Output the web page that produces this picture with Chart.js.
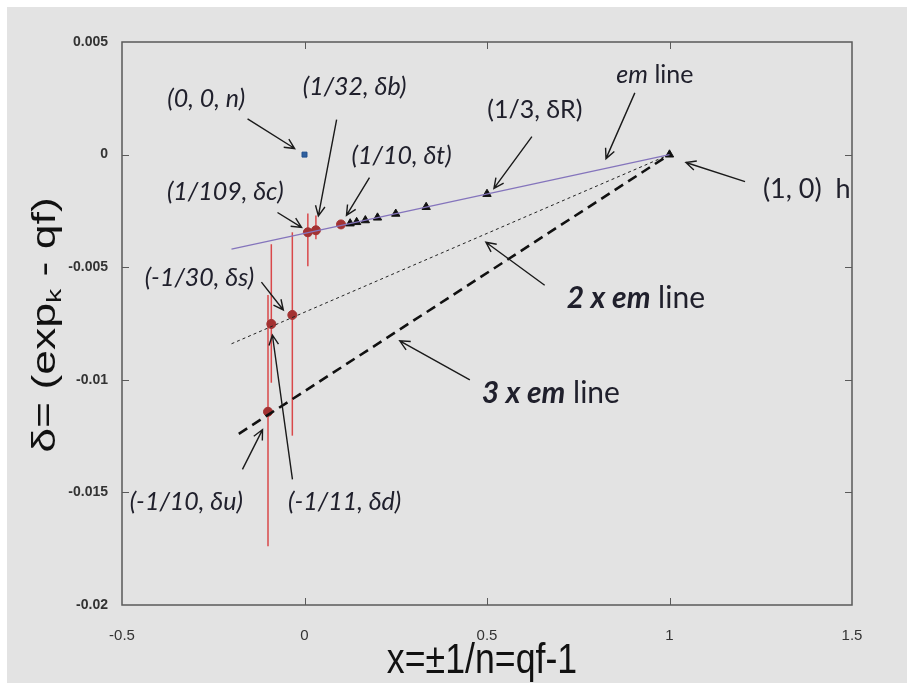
<!DOCTYPE html>
<html>
<head>
<meta charset="utf-8">
<script src="https://cdn.jsdelivr.net/npm/chart.js@4.4.1/dist/chart.umd.min.js"></script>
<style>
  html, body { margin: 0; padding: 0; background: #ffffff; }
  #wrap { position: absolute; left: 7px; top: 7px; width: 900px; height: 676px; background: #e3e3e3; }
</style>
</head>
<body>
<div id="wrap"><canvas id="c" width="900" height="676"></canvas></div>
<script>
// ---- Ejes ----
const xTicks      = [-0.5, 0, 0.5, 1, 1.5];
const xTickLabels = ['-0.5', '0', '0.5', '1', '1.5'];
const yTicks      = [-0.02, -0.015, -0.01, -0.005, 0, 0.005];
const yTickLabels = ['-0.02', '-0.015', '-0.01', '-0.005', '0', '0.005'];

// ---- Lineas (extremos) ----
const emLineX  = [-0.2, 1];
const emLineY  = [-0.0042, 0];
const em2LineX = [-0.2, 1];
const em2LineY = [-0.0084, 0];
const em3LineX = [-0.18, 1];
const em3LineY = [-0.0124, 0];

// ---- Leptones / h (triangulos) ----
const triX = [1/8, 1/7, 1/6, 1/5, 1/4, 1/3, 1/2, 1];
const triY = [-0.00306, -0.00300, -0.00292, -0.00280, -0.00263, -0.00233, -0.00175, 0];

// ---- Quarks (circulos con barras de error) ----
const qX    = [1/109, 1/32, 1/10, -1/30, -1/11, -1/10];
const qY    = [-0.00345, -0.00336, -0.00310, -0.00712, -0.00752, -0.01142];
const qHigh = [-0.00261, -0.00270, null, -0.00345, -0.00398, -0.00624];
const qLow  = [-0.00496, -0.00376, null, -0.01248, -0.01013, -0.01739];

// ---- Neutrino ----
const nX = [0];
const nY = [0];

const pts = (xs, ys) => xs.map((x, i) => ({ x: x, y: ys[i] }));

// ---- Anotaciones: texto + flecha (coordenadas de datos) ----
const annotations = [
  { at: [-0.269, 0.00248], parts: [['(0, 0, n)', 'i']], from: [-0.156, 0.00159], to: [-0.027, 0.00027] },
  { at: [0.137, 0.00301], parts: [['(1/32, δb)', 'i']], from: [0.088, 0.00155], to: [0.038, -0.00272] },
  { at: [0.266, -0.00004], parts: [['(1/10, δt)', 'i']], from: [0.178, -0.00102], to: [0.115, -0.00270] },
  { at: [-0.217, -0.00164], parts: [['(1/109, δc)', 'i']], from: [-0.074, -0.00257], to: [-0.008, -0.00323] },
  { at: [0.631, 0.00199], parts: [['(1/3, δR)', 'n']], from: [0.623, 0.0008], to: [0.519, -0.0015] },
  { at: [0.960, 0.00354], parts: [['em', 'i'], [' line', 'n']], from: [0.905, 0.00274], to: [0.826, -0.00018] },
  { at: [1.376, -0.00155], parts: [['(1, 0)  h', 'm']], from: [1.207, -0.0012], to: [1.045, -0.00035] },
  { at: [0.908, -0.00637], parts: [['2 x ', 'bi'], ['em', 'bi'], [' line', 'N']], from: [0.658, -0.0058], to: [0.497, -0.00389] },
  { at: [0.675, -0.01058], parts: [['3 x ', 'bi'], ['em', 'bi'], [' line', 'N']], from: [0.453, -0.0100], to: [0.261, -0.00827] },
  { at: [-0.288, -0.00549], parts: [['(-1/30, δs)', 'i']], from: [-0.118, -0.00566], to: [-0.058, -0.0069] },
  { at: [-0.324, -0.01544], parts: [['(-1/10, δu)', 'i']], from: [-0.170, -0.01398], to: [-0.115, -0.01221] },
  { at: [0.110, -0.01544], parts: [['(-1/11, δd)', 'i']], from: [-0.033, -0.01442], to: [-0.088, -0.00801] },
];

const TXT = '#20202c';
const fontFor = (style) => ({
  i:  'italic 25px Lato, "Open Sans", sans-serif',
  n:  '25px Lato, "Open Sans", sans-serif',
  m:  '27px Lato, "Open Sans", sans-serif',
  bi: 'italic bold 30px Lato, "Open Sans", sans-serif',
  N:  '30px Lato, "Open Sans", sans-serif',
}[style]);

function drawParts(ctx, parts, cx, cy) {
  let total = 0;
  parts.forEach(p => { ctx.font = fontFor(p[1]); total += ctx.measureText(p[0]).width; });
  let x = cx - total / 2;
  ctx.textAlign = 'left';
  ctx.textBaseline = 'middle';
  ctx.fillStyle = TXT;
  parts.forEach(p => {
    ctx.font = fontFor(p[1]);
    ctx.fillText(p[0], x, cy);
    x += ctx.measureText(p[0]).width;
  });
}

function drawArrow(ctx, x1, y1, x2, y2) {
  const a = Math.atan2(y2 - y1, x2 - x1);
  const L = 11, W = 0.45;
  ctx.strokeStyle = '#1a1a1a';
  ctx.lineWidth = 1.4;
  ctx.beginPath();
  ctx.moveTo(x1, y1); ctx.lineTo(x2, y2);
  ctx.moveTo(x2 - L * Math.cos(a - W), y2 - L * Math.sin(a - W));
  ctx.lineTo(x2, y2);
  ctx.lineTo(x2 - L * Math.cos(a + W), y2 - L * Math.sin(a + W));
  ctx.stroke();
}

// Barras de error verticales
const errorBars = {
  id: 'errorBars',
  beforeDatasetsDraw(chart) {
    const { ctx, scales: { x, y } } = chart;
    ctx.save();
    ctx.strokeStyle = '#d9484a';
    ctx.lineWidth = 1.5;
    qX.forEach((v, i) => {
      if (qHigh[i] === null) return;
      const px = x.getPixelForValue(v);
      ctx.beginPath();
      ctx.moveTo(px, y.getPixelForValue(qHigh[i]));
      ctx.lineTo(px, y.getPixelForValue(qLow[i]));
      ctx.stroke();
    });
    ctx.restore();
  }
};

// Marco + marcas hacia dentro + titulos + anotaciones
const frame = {
  id: 'frame',
  afterDraw(chart) {
    const { ctx, chartArea: a, scales: { x, y } } = chart;
    ctx.save();
    ctx.strokeStyle = '#5a5a5a';
    ctx.lineWidth = 1.5;
    ctx.strokeRect(a.left, a.top, a.right - a.left, a.bottom - a.top);
    ctx.lineWidth = 1;
    ctx.beginPath();
    xTicks.slice(1, -1).forEach(v => {
      const px = Math.round(x.getPixelForValue(v)) + 0.5;
      ctx.moveTo(px, a.bottom); ctx.lineTo(px, a.bottom - 7);
      ctx.moveTo(px, a.top);    ctx.lineTo(px, a.top + 7);
    });
    yTicks.slice(1, -1).forEach(v => {
      const py = Math.round(y.getPixelForValue(v)) + 0.5;
      ctx.moveTo(a.left, py);  ctx.lineTo(a.left + 7, py);
      ctx.moveTo(a.right, py); ctx.lineTo(a.right - 7, py);
    });
    ctx.stroke();

    // titulo eje x (condensado)
    ctx.save();
    ctx.translate((a.left + a.right) / 2 - 5, 654);
    ctx.scale(0.85, 1);
    ctx.font = '42px "Liberation Sans", Arial, sans-serif';
    ctx.fillStyle = '#111';
    ctx.textAlign = 'center';
    ctx.textBaseline = 'middle';
    ctx.fillText('x=±1/n=qf-1', 0, 0);
    ctx.restore();

    // titulo eje y con subindice (alargado)
    ctx.save();
    ctx.translate(39, 318);
    ctx.rotate(-Math.PI / 2);
    ctx.scale(1.35, 1);
    const segs = [['δ= (exp', 33, 0], ['k', 21, 9], [' - qf)', 33, 0]];
    let tw = 0;
    segs.forEach(s => { ctx.font = s[1] + 'px "Liberation Sans", Arial, sans-serif'; tw += ctx.measureText(s[0]).width; });
    let sx = -tw / 2;
    ctx.fillStyle = '#111';
    ctx.textAlign = 'left';
    ctx.textBaseline = 'middle';
    segs.forEach(s => {
      ctx.font = s[1] + 'px "Liberation Sans", Arial, sans-serif';
      ctx.fillText(s[0], sx, s[2]);
      sx += ctx.measureText(s[0]).width;
    });
    ctx.restore();

    // anotaciones
    annotations.forEach(an => {
      drawParts(ctx, an.parts, x.getPixelForValue(an.at[0]), y.getPixelForValue(an.at[1]));
      drawArrow(ctx, x.getPixelForValue(an.from[0]), y.getPixelForValue(an.from[1]),
                     x.getPixelForValue(an.to[0]),   y.getPixelForValue(an.to[1]));
    });
    ctx.restore();
  }
};

new Chart(document.getElementById('c').getContext('2d'), {
  type: 'scatter',
  data: {
    datasets: [
      { type: 'line', data: pts(emLineX, emLineY), borderColor: '#8474bc', borderWidth: 1.3, pointRadius: 0, fill: false },
      { type: 'line', data: pts(em2LineX, em2LineY), borderColor: '#222', borderWidth: 1, borderDash: [3, 3], pointRadius: 0, fill: false },
      { type: 'line', data: pts(em3LineX, em3LineY), borderColor: '#111', borderWidth: 2.6, borderDash: [10, 6], pointRadius: 0, fill: false },
      { data: pts(triX, triY), pointStyle: 'triangle', pointRadius: 4.8, backgroundColor: '#111', borderColor: '#111', borderWidth: 1 },
      { data: pts(qX, qY), pointStyle: 'circle', pointRadius: 4.5, backgroundColor: '#a33232', borderColor: '#a33232', borderWidth: 1 },
      { data: pts(nX, nY), pointStyle: 'rect', pointRadius: 3.5, backgroundColor: '#2f5f9e', borderColor: '#1f4f8e', borderWidth: 1 },
    ]
  },
  options: {
    responsive: false,
    animation: false,
    events: [],
    layout: { padding: { left: 0, top: 35, right: 55, bottom: 0 } },
    plugins: { legend: { display: false }, tooltip: { enabled: false } },
    scales: {
      x: {
        type: 'linear', min: -0.5, max: 1.5,
        afterBuildTicks: s => { s.ticks = xTicks.map(v => ({ value: v })); },
        afterFit: s => { s.height = 78; },
        grid: { display: false },
        border: { display: false },
        ticks: {
          callback: (v, i) => xTickLabels[i],
          color: '#333', padding: 14,
          font: { family: '"Liberation Sans Narrow", "Liberation Sans", Arial', size: 15 }
        }
      },
      y: {
        type: 'linear', min: -0.02, max: 0.005,
        afterBuildTicks: s => { s.ticks = yTicks.map(v => ({ value: v })); },
        afterFit: s => { s.width = 115; },
        grid: { display: false },
        border: { display: false },
        ticks: {
          callback: (v, i) => yTickLabels[i],
          color: '#333', padding: 6,
          font: { family: '"Liberation Sans", Arial', size: 14, weight: 'bold' }
        }
      }
    }
  },
  plugins: [errorBars, frame]
});
</script>
</body>
</html>
